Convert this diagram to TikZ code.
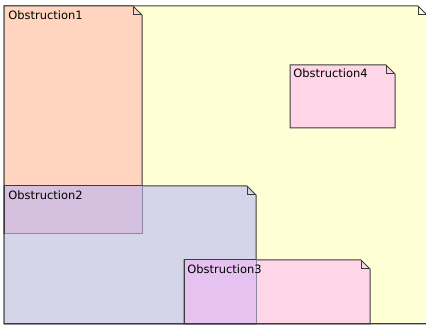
\documentclass[tikz,border=0pt]{standalone}
\usepackage{fontspec}
\setmainfont{DejaVu Sans}
\definecolor{noteyellow}{HTML}{FFFFD6}
\definecolor{noteorange}{HTML}{FFD5C0}
\definecolor{noteblue}{HTML}{D4D5E8}
\definecolor{notepink}{HTML}{FFD5E8}
\definecolor{mixorangeblue}{HTML}{D6C0DF}
\definecolor{mixbluepink}{HTML}{E6C2F0}
\definecolor{edge}{HTML}{3C3C3C}
\definecolor{edgesoft}{HTML}{8E86A6}
\tikzset{
  noteedge/.style={draw=edge, line width=0.75pt, line join=miter},
  softedge/.style={draw=edgesoft, line width=0.75pt},
  notelabel/.style={anchor=base west, inner sep=0pt, font=\fontsize{8.6}{10}\selectfont, text=black}
}
% a UML note with a folded top-right corner: #1,#2 = top-left, #3,#4 = bottom-right, #5 = fill
\newcommand\obsnote[5]{%
  \fill[#5] (#1,#2) -- (#3-9,#2) -- (#3,#2+9) -- (#3,#4) -- (#1,#4) -- cycle;
  \draw[noteedge] (#1,#4) -- (#1,#2) -- (#3-9,#2) -- (#3,#2+9) -- (#3,#4) -- cycle;
  \draw[noteedge] (#3-9,#2) -- (#3-9,#2+9) -- (#3,#2+9);
}
\begin{document}
\begin{tikzpicture}[x=0.75pt, y=-0.75pt]
  \useasboundingbox (0,0) rectangle (426,327);
  \fill[white] (0,0) rectangle (426,327);

  % enclosing note, its right side runs past the page edge
  \obsnote{4}{6}{427}{324}{noteyellow}

  % Obstruction1
  \obsnote{4}{6}{142}{234}{noteorange}
  % Obstruction2
  \obsnote{4}{186}{256}{324}{noteblue}
  % overlap of 1 and 2
  \fill[mixorangeblue] (4.4,186.4) rectangle (141.6,233.6);
  \draw[softedge] (4,234) -- (142,234) -- (142,186);
  \draw[noteedge] (4,186) -- (142,186);
  \draw[noteedge] (4,186) -- (4,234);

  % Obstruction3
  \obsnote{184}{260}{370}{324}{notepink}
  % overlap of 2 and 3
  \fill[mixbluepink] (184.4,260.4) rectangle (255.6,323.6);
  \draw[softedge] (256,260) -- (256,324);
  \draw[noteedge] (184,260) -- (256,260);
  \draw[noteedge] (184,260) -- (184,324);

  % Obstruction4
  \obsnote{290}{65}{395}{128}{notepink}

  % common bottom edge
  \draw[noteedge] (4,324) -- (426,324);

  \node[notelabel] (o1) at (8,20) {Obstruction1};
  \node[notelabel] (o2) at (8,200) {Obstruction2};
  \node[notelabel] (o3) at (187,274) {Obstruction3};
  \node[notelabel] (o4) at (293,78) {Obstruction4};
\end{tikzpicture}
\end{document}
